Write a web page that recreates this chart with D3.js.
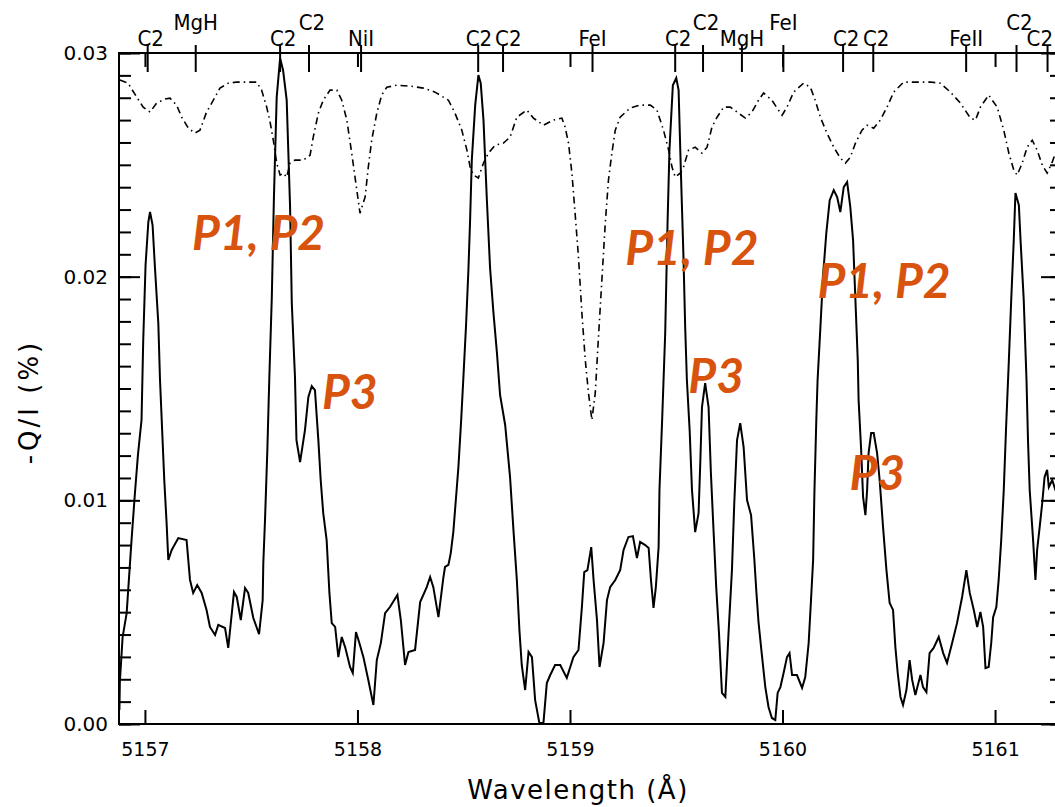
<!DOCTYPE html>
<html>
<head>
<meta charset="utf-8">
<script src="https://cdn.jsdelivr.net/npm/d3@7"></script>
<style>
  body { margin: 0; background: #fff; }
  svg { display: block; }
</style>
</head>
<body>
<svg id="chart" width="1055" height="807"></svg>
<script>
// -Q/I profile (solid), wavelength in Angstrom
const solidWl = [
  5156.880, 5156.882, 5156.895, 5156.914, 5156.937, 5156.953, 5156.967, 5156.984, 5156.992, 5157.003,
  5157.016, 5157.024, 5157.036, 5157.047, 5157.063, 5157.071, 5157.081, 5157.091, 5157.102, 5157.110,
  5157.126, 5157.157, 5157.196, 5157.212, 5157.227, 5157.246, 5157.267, 5157.290, 5157.306, 5157.330,
  5157.345, 5157.377, 5157.392, 5157.419, 5157.432, 5157.451, 5157.471, 5157.486, 5157.510, 5157.537,
  5157.554, 5157.557, 5157.565, 5157.576, 5157.585, 5157.597, 5157.607, 5157.620, 5157.636, 5157.650,
  5157.667, 5157.683, 5157.691, 5157.706, 5157.713, 5157.730, 5157.753, 5157.769, 5157.785, 5157.800,
  5157.816, 5157.827, 5157.839, 5157.855, 5157.868, 5157.879, 5157.895, 5157.910, 5157.926, 5157.942,
  5157.965, 5157.978, 5157.993, 5158.009, 5158.028, 5158.051, 5158.075, 5158.091, 5158.110, 5158.130,
  5158.153, 5158.188, 5158.204, 5158.224, 5158.240, 5158.271, 5158.295, 5158.326, 5158.342, 5158.357,
  5158.381, 5158.404, 5158.412, 5158.428, 5158.439, 5158.451, 5158.464, 5158.475, 5158.488, 5158.499,
  5158.511, 5158.522, 5158.530, 5158.538, 5158.554, 5158.569, 5158.580, 5158.593, 5158.609, 5158.624,
  5158.640, 5158.656, 5158.671, 5158.695, 5158.718, 5158.734, 5158.750, 5158.762, 5158.773, 5158.789,
  5158.805, 5158.821, 5158.836, 5158.856, 5158.875, 5158.891, 5158.907, 5158.930, 5158.954, 5158.985,
  5159.016, 5159.040, 5159.056, 5159.067, 5159.082, 5159.100, 5159.111, 5159.127, 5159.139, 5159.158,
  5159.174, 5159.189, 5159.213, 5159.236, 5159.252, 5159.275, 5159.296, 5159.315, 5159.330, 5159.354,
  5159.370, 5159.381, 5159.393, 5159.404, 5159.417, 5159.421, 5159.433, 5159.448, 5159.459, 5159.468,
  5159.484, 5159.500, 5159.511, 5159.522, 5159.534, 5159.542, 5159.550, 5159.563, 5159.574, 5159.589,
  5159.605, 5159.613, 5159.621, 5159.636, 5159.652, 5159.663, 5159.676, 5159.688, 5159.701, 5159.715,
  5159.731, 5159.746, 5159.762, 5159.773, 5159.786, 5159.801, 5159.817, 5159.833, 5159.852, 5159.867,
  5159.877, 5159.887, 5159.903, 5159.919, 5159.934, 5159.950, 5159.966, 5159.977, 5159.990, 5160.005,
  5160.021, 5160.033, 5160.045, 5160.068, 5160.092, 5160.107, 5160.123, 5160.134, 5160.144, 5160.150,
  5160.159, 5160.165, 5160.178, 5160.191, 5160.206, 5160.222, 5160.241, 5160.257, 5160.272, 5160.288,
  5160.304, 5160.319, 5160.332, 5160.343, 5160.354, 5160.358, 5160.370, 5160.379, 5160.390, 5160.398,
  5160.405, 5160.417, 5160.429, 5160.445, 5160.457, 5160.473, 5160.489, 5160.504, 5160.520, 5160.531,
  5160.542, 5160.555, 5160.567, 5160.583, 5160.598, 5160.610, 5160.625, 5160.649, 5160.661, 5160.677,
  5160.692, 5160.711, 5160.735, 5160.756, 5160.774, 5160.798, 5160.821, 5160.845, 5160.865, 5160.881,
  5160.900, 5160.916, 5160.931, 5160.944, 5160.955, 5160.970, 5160.982, 5160.991, 5161.006, 5161.017,
  5161.029, 5161.041, 5161.052, 5161.065, 5161.076, 5161.088, 5161.096, 5161.112, 5161.120, 5161.135,
  5161.148, 5161.155, 5161.163, 5161.179, 5161.190, 5161.198, 5161.210, 5161.222, 5161.233, 5161.245,
  5161.253, 5161.269, 5161.284, 5161.308
];
const solidQ = [
  0.00063, 0.00188, 0.00389, 0.00496, 0.00822, 0.01033, 0.01202, 0.01359, 0.01716, 0.02052,
  0.02244, 0.02289, 0.02231, 0.02043, 0.01792, 0.01538, 0.01314, 0.01091, 0.00898, 0.00733,
  0.00778, 0.00831, 0.00822, 0.00644, 0.00586, 0.00621, 0.00586, 0.00510, 0.00434, 0.00398,
  0.00443, 0.00429, 0.00340, 0.00590, 0.00568, 0.00465, 0.00608, 0.00586, 0.00474, 0.00402,
  0.00554, 0.00720, 0.00912, 0.01225, 0.01538, 0.01909, 0.02356, 0.02803, 0.02977, 0.02923,
  0.02789, 0.02311, 0.01882, 0.01551, 0.01269, 0.01171, 0.01314, 0.01462, 0.01511, 0.01493,
  0.01269, 0.01091, 0.00943, 0.00822, 0.00586, 0.00451, 0.00434, 0.00299, 0.00389, 0.00344,
  0.00255, 0.00228, 0.00411, 0.00362, 0.00299, 0.00197, 0.00085, 0.00286, 0.00362, 0.00496,
  0.00523, 0.00577, 0.00465, 0.00264, 0.00322, 0.00331, 0.00545, 0.00612, 0.00657, 0.00612,
  0.00478, 0.00653, 0.00702, 0.00711, 0.00764, 0.00858, 0.01015, 0.01149, 0.01359, 0.01560,
  0.01784, 0.02029, 0.02253, 0.02521, 0.02767, 0.02901, 0.02865, 0.02700, 0.02342, 0.02038,
  0.01837, 0.01663, 0.01471, 0.01337, 0.01104, 0.00867, 0.00644, 0.00420, 0.00264, 0.00152,
  0.00322, 0.00299, 0.00107, 0.00004, 0.00004, 0.00183, 0.00219, 0.00264, 0.00264, 0.00206,
  0.00299, 0.00331, 0.00523, 0.00679, 0.00688, 0.00791, 0.00644, 0.00465, 0.00255, 0.00362,
  0.00554, 0.00612, 0.00644, 0.00688, 0.00778, 0.00836, 0.00840, 0.00742, 0.00814, 0.00800,
  0.00787, 0.00644, 0.00519, 0.00612, 0.00791, 0.01046, 0.01345, 0.01748, 0.02239, 0.02566,
  0.02856, 0.02888, 0.02834, 0.02463, 0.02087, 0.01775, 0.01538, 0.01314, 0.01046, 0.00858,
  0.00943, 0.01167, 0.01417, 0.01524, 0.01417, 0.01122, 0.00854, 0.00612, 0.00407, 0.00139,
  0.00121, 0.00407, 0.00688, 0.00988, 0.01269, 0.01345, 0.01238, 0.01001, 0.00934, 0.00742,
  0.00590, 0.00456, 0.00308, 0.00165, 0.00076, 0.00027, 0.00018, 0.00139, 0.00165, 0.00228,
  0.00299, 0.00317, 0.00219, 0.00219, 0.00161, 0.00210, 0.00362, 0.00554, 0.00733, 0.01033,
  0.01359, 0.01538, 0.01770, 0.02007, 0.02195, 0.02342, 0.02387, 0.02356, 0.02289, 0.02400,
  0.02423, 0.02311, 0.02163, 0.01895, 0.01627, 0.01448, 0.01225, 0.01015, 0.00934, 0.01046,
  0.01211, 0.01301, 0.01301, 0.01211, 0.01091, 0.00881, 0.00688, 0.00541, 0.00510, 0.00344,
  0.00228, 0.00121, 0.00085, 0.00152, 0.00286, 0.00197, 0.00130, 0.00219, 0.00165, 0.00143,
  0.00317, 0.00340, 0.00389, 0.00317, 0.00273, 0.00362, 0.00451, 0.00568, 0.00688, 0.00586,
  0.00510, 0.00434, 0.00501, 0.00434, 0.00250, 0.00255, 0.00362, 0.00478, 0.00523, 0.00644,
  0.00822, 0.01046, 0.01328, 0.01627, 0.01895, 0.02163, 0.02374, 0.02320, 0.02163, 0.01895,
  0.01538, 0.01269, 0.01046, 0.00822, 0.00644, 0.00778, 0.00881, 0.00988, 0.01104, 0.01136,
  0.01059, 0.01091, 0.01046, 0.01001
];

// intensity profile (dash-dot), scaled to the same axis
const dashWl = [
  5156.882, 5156.921, 5156.961, 5156.992, 5157.024, 5157.055, 5157.094, 5157.118, 5157.149, 5157.173,
  5157.204, 5157.235, 5157.259, 5157.290, 5157.322, 5157.353, 5157.392, 5157.432, 5157.526, 5157.549,
  5157.573, 5157.589, 5157.604, 5157.620, 5157.636, 5157.651, 5157.667, 5157.683, 5157.706, 5157.745,
  5157.777, 5157.792, 5157.816, 5157.839, 5157.871, 5157.903, 5157.926, 5157.950, 5157.973, 5157.997,
  5158.012, 5158.036, 5158.051, 5158.067, 5158.091, 5158.114, 5158.138, 5158.185, 5158.248, 5158.310,
  5158.365, 5158.428, 5158.459, 5158.491, 5158.515, 5158.530, 5158.546, 5158.569, 5158.593, 5158.616,
  5158.648, 5158.687, 5158.718, 5158.750, 5158.797, 5158.828, 5158.875, 5158.922, 5158.962, 5158.977,
  5158.993, 5159.009, 5159.024, 5159.040, 5159.056, 5159.072, 5159.087, 5159.103, 5159.119, 5159.134,
  5159.150, 5159.166, 5159.181, 5159.197, 5159.213, 5159.236, 5159.283, 5159.330, 5159.378, 5159.409,
  5159.440, 5159.464, 5159.480, 5159.495, 5159.519, 5159.534, 5159.558, 5159.589, 5159.621, 5159.645,
  5159.668, 5159.692, 5159.723, 5159.754, 5159.786, 5159.825, 5159.856, 5159.887, 5159.911, 5159.950,
  5159.974, 5159.998, 5160.021, 5160.052, 5160.099, 5160.131, 5160.154, 5160.178, 5160.209, 5160.241,
  5160.272, 5160.296, 5160.319, 5160.343, 5160.374, 5160.398, 5160.429, 5160.460, 5160.492, 5160.523,
  5160.570, 5160.633, 5160.696, 5160.743, 5160.790, 5160.837, 5160.884, 5160.908, 5160.931, 5160.970,
  5161.010, 5161.041, 5161.065, 5161.088, 5161.104, 5161.128, 5161.151, 5161.175, 5161.198, 5161.222,
  5161.245, 5161.269, 5161.289
];
const dashI = [
  0.02879, 0.02865, 0.02803, 0.02758, 0.02736, 0.02776, 0.02794, 0.02798, 0.02767, 0.02713,
  0.02664, 0.02642, 0.02655, 0.02736, 0.02789, 0.02843, 0.02865, 0.02870, 0.02870, 0.02834,
  0.02758, 0.02691, 0.02610, 0.02508, 0.02454, 0.02463, 0.02445, 0.02508, 0.02521, 0.02521,
  0.02543, 0.02624, 0.02731, 0.02789, 0.02834, 0.02834, 0.02789, 0.02700, 0.02552, 0.02387,
  0.02284, 0.02356, 0.02490, 0.02610, 0.02731, 0.02812, 0.02847, 0.02856, 0.02852, 0.02843,
  0.02825, 0.02789, 0.02731, 0.02655, 0.02566, 0.02490, 0.02454, 0.02441, 0.02508, 0.02552,
  0.02588, 0.02597, 0.02624, 0.02713, 0.02745, 0.02709, 0.02677, 0.02700, 0.02709, 0.02669,
  0.02597, 0.02463, 0.02284, 0.02087, 0.01837, 0.01627, 0.01480, 0.01359, 0.01480, 0.01730,
  0.01985, 0.02239, 0.02432, 0.02552, 0.02655, 0.02713, 0.02754, 0.02767, 0.02767, 0.02745,
  0.02655, 0.02566, 0.02490, 0.02445, 0.02463, 0.02490, 0.02566, 0.02579, 0.02552, 0.02579,
  0.02669, 0.02713, 0.02758, 0.02758, 0.02736, 0.02709, 0.02736, 0.02789, 0.02821, 0.02789,
  0.02754, 0.02722, 0.02758, 0.02825, 0.02865, 0.02847, 0.02789, 0.02713, 0.02642, 0.02579,
  0.02530, 0.02508, 0.02534, 0.02597, 0.02655, 0.02677, 0.02664, 0.02700, 0.02758, 0.02825,
  0.02870, 0.02870, 0.02870, 0.02865, 0.02825, 0.02776, 0.02709, 0.02700, 0.02758, 0.02812,
  0.02758, 0.02655, 0.02552, 0.02477, 0.02454, 0.02508, 0.02579, 0.02610, 0.02566, 0.02499,
  0.02463, 0.02512, 0.02566
];

// identified lines on the top axis
const lineNames = ['C2', 'MgH', 'C2', 'C2', 'NiI', 'C2', 'C2', 'FeI', 'C2', 'C2', 'MgH', 'FeI', 'C2', 'C2', 'FeII', 'C2', 'C2'];
const lineWl = [5157.013, 5157.239, 5157.636, 5157.772, 5158.017, 5158.568, 5158.685, 5159.106, 5159.495, 5159.626, 5159.809, 5160.004, 5160.285, 5160.427, 5160.864, 5161.101, 5161.247];
const lineRaised = [false, true, false, true, false, false, false, false, false, true, false, true, false, false, false, true, false];

// peak annotations, anchored at data coordinates (left edge, baseline)
const noteText = ['P1, P2', 'P3', 'P1, P2', 'P3', 'P1, P2', 'P3'];
const noteWl = [5157.221, 5157.833, 5159.260, 5159.557, 5160.164, 5160.315];
const noteQ = [0.02119, 0.01408, 0.02052, 0.01480, 0.01904, 0.01046];

const xTicks = [5157, 5158, 5159, 5160, 5161];
const yTicks = [0, 0.01, 0.02, 0.03];

const svg = d3.select('#chart');
const W = 1055;
const area = { left: 119, right: 1062, top: 53, bottom: 724 };
const font = "'DejaVu Sans', sans-serif";
const labelFont = "'DejaVu Sans Condensed', 'DejaVu Sans', sans-serif";

const x = d3.scaleLinear().domain([5156.878, 5161.315]).range([area.left, area.right]);
const y = d3.scaleLinear().domain([0, 0.03]).range([area.bottom, area.top]);

svg.append('defs').append('clipPath').attr('id', 'plotClip')
  .append('rect')
  .attr('x', area.left).attr('y', area.top)
  .attr('width', area.right - area.left).attr('height', area.bottom - area.top);

const styleAxis = (g, fs) => {
  g.select('.domain').remove();
  g.selectAll('line').attr('stroke', '#000').attr('stroke-width', 2);
  g.selectAll('text').style('font-family', font).style('font-size', fs).attr('fill', '#000');
};

// y minor ticks, both sides
const yMinor = d3.range(0, 30.5, 1).map(d => d / 1000);
svg.append('g').attr('transform', `translate(${area.left},0)`)
  .call(d3.axisLeft(y).tickValues(yMinor).tickSize(-12).tickFormat(''))
  .call(g => styleAxis(g, '0px'));
svg.append('g').attr('transform', `translate(${area.right},0)`)
  .call(d3.axisRight(y).tickValues(yMinor).tickSize(-12).tickFormat(''))
  .call(g => styleAxis(g, '0px'));

// y major ticks
svg.append('g').attr('transform', `translate(${area.left},0)`)
  .call(d3.axisLeft(y).tickValues(yTicks).tickSize(-21).tickPadding(11).tickFormat(d3.format('.2f')))
  .call(g => styleAxis(g, '20px'));
svg.append('g').attr('transform', `translate(${area.right},0)`)
  .call(d3.axisRight(y).tickValues(yTicks).tickSize(-21).tickFormat(''))
  .call(g => styleAxis(g, '0px'));

// x ticks, bottom with labels and top without
svg.append('g').attr('transform', `translate(0,${area.bottom})`)
  .call(d3.axisBottom(x).tickValues(xTicks).tickSize(-14).tickPadding(19).tickFormat(d3.format('d')))
  .call(g => styleAxis(g, '19px'));
svg.append('g').attr('transform', `translate(0,${area.top})`)
  .call(d3.axisTop(x).tickValues(xTicks).tickSize(-14).tickFormat(''))
  .call(g => styleAxis(g, '0px'));

// line identifications
const lines = svg.append('g');
lineWl.forEach(w => {
  lines.append('line')
    .attr('x1', x(w)).attr('x2', x(w))
    .attr('y1', 45).attr('y2', 72)
    .attr('stroke', '#000').attr('stroke-width', 2);
});
const labels = lineWl.map((w, i) => {
  const t = lines.append('text')
    .attr('y', lineRaised[i] ? 30 : 46)
    .attr('text-anchor', 'middle')
    .style('font-family', labelFont)
    .style('font-size', '22px')
    .text(lineNames[i]);
  return { node: t, cx: x(w) + (lineNames[i] === 'C2' ? 3 : 0), w: t.node().getComputedTextLength(), raised: lineRaised[i] };
});
// keep neighbouring labels in the same row apart, and inside the picture
[true, false].forEach(r => {
  const row = labels.filter(l => l.raised === r);
  for (let k = 1; k < row.length; k++) {
    const a = row[k - 1], b = row[k];
    const gap = (b.cx - b.w / 2) - (a.cx + a.w / 2) - 3;
    if (gap < 0) { a.cx += gap / 2; b.cx -= gap / 2; }
  }
  row.forEach(l => { l.cx = Math.min(l.cx, W - 2 - l.w / 2); });
});
labels.forEach(l => l.node.attr('x', l.cx));

// curves
const plot = svg.append('g').attr('clip-path', 'url(#plotClip)');
const line = d3.line().x(d => x(d[0])).y(d => y(d[1]));

plot.append('path')
  .datum(dashWl.map((w, i) => [w, dashI[i]]))
  .attr('fill', 'none')
  .attr('stroke', '#000')
  .attr('stroke-width', 1.6)
  .attr('stroke-dasharray', '7,4,1.5,4')
  .attr('d', line);

plot.append('path')
  .datum(solidWl.map((w, i) => [w, solidQ[i]]))
  .attr('fill', 'none')
  .attr('stroke', '#000')
  .attr('stroke-width', 2)
  .attr('stroke-linejoin', 'miter')
  .attr('d', line);

// frame
svg.append('rect')
  .attr('x', area.left).attr('y', area.top)
  .attr('width', area.right - area.left).attr('height', area.bottom - area.top)
  .attr('fill', 'none').attr('stroke', '#000').attr('stroke-width', 2);

// axis titles
svg.append('text')
  .attr('x', 578).attr('y', 799)
  .attr('text-anchor', 'middle')
  .style('font-family', font).style('font-size', '26px').style('letter-spacing', '1.5px')
  .text('Wavelength (Å)');
svg.append('text')
  .attr('transform', 'translate(38,402) rotate(-90)')
  .attr('text-anchor', 'middle')
  .style('font-family', font).style('font-size', '26px').style('letter-spacing', '3px')
  .text('-Q/I (%)');

// annotations
noteText.forEach((t, i) => {
  svg.append('text')
    .attr('x', x(noteWl[i])).attr('y', y(noteQ[i]))
    .style('font-family', "Lato, 'Open Sans', sans-serif")
    .style('font-weight', 'bold').style('font-style', 'italic')
    .style('font-size', '48px')
    .attr('fill', '#D8530E')
    .text(t);
});
</script>
</body>
</html>
